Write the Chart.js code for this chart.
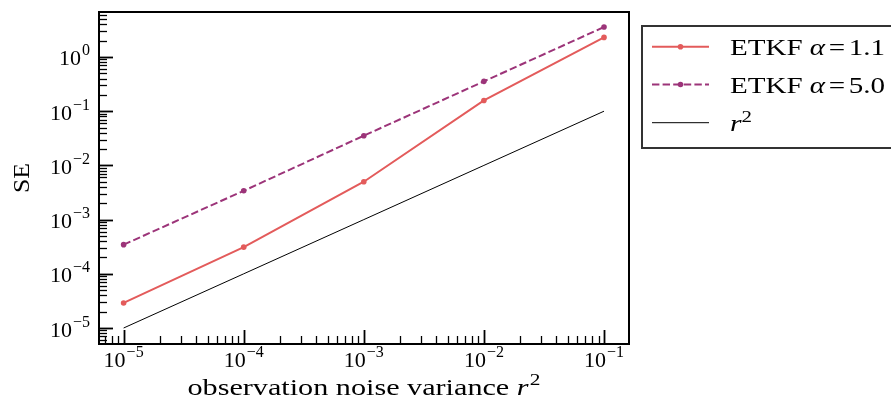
<!DOCTYPE html>
<html><head><meta charset="utf-8">
<script src="https://cdn.jsdelivr.net/npm/chart.js@4"></script>
<style>html,body{margin:0;padding:0;background:#fff;overflow:hidden}#wrap{width:891px;height:405px}</style>
</head><body><div id="wrap"><canvas id="c" width="891" height="405"></canvas></div>
<script>
// ---- data ----
const noiseVariance = [1e-5, 1e-4, 1e-3, 1e-2, 1e-1];
const etkfAlpha11 = [2.9e-5, 3.1e-4, 5.0e-3, 0.158, 2.30];
const etkfAlpha50 = [3.45e-4, 3.4e-3, 0.0353, 0.355, 3.57];
const rSquared = [1e-5, 1e-4, 1e-3, 1e-2, 1e-1];
const seriesNames = ["ETKF α=1.1", "ETKF α=5.0", "r²"];
const xTickValues = [1e-5, 1e-4, 1e-3, 1e-2, 1e-1];
const xTickExponents = ["−5", "−4", "−3", "−2", "−1"];
const yTickValues = [1e-5, 1e-4, 1e-3, 1e-2, 1e-1, 1e0];
const yTickExponents = ["−5", "−4", "−3", "−2", "−1", "0"];
const xAxisTitle = "observation noise variance ";
const yAxisTitle = "SE";

const RED = "#e35b5b", PUR = "#9c3479";
const FAM = '"Liberation Serif","DejaVu Serif",serif';

const pts = arr => noiseVariance.map((x, i) => ({x, y: arr[i]}));

function drawRuns(ctx, runs, x, y, align, target) {
  let w = 0;
  runs.forEach(r => { ctx.font = r.font; r.w = ctx.measureText(r.t).width; w += r.w + (r.gap || 0); });
  const sx = target ? target / w : 1;
  const tw = w * sx;
  let x0 = align === 'center' ? x - tw / 2 : align === 'right' ? x - tw : x;
  ctx.save();
  ctx.translate(x0, y);
  ctx.scale(sx, 1);
  ctx.textBaseline = 'alphabetic';
  ctx.textAlign = 'left';
  let cx = 0;
  runs.forEach(r => { cx += (r.pre || 0); ctx.font = r.font; ctx.fillText(r.t, cx, -(r.dy || 0)); cx += r.w + (r.gap || 0) - (r.pre || 0); });
  ctx.restore();
}

function legendRuns(name, size) {
  const up = size + 'px ' + FAM, it = 'italic ' + size + 'px ' + FAM;
  if (name === "r²") return [{t: "r", font: it}, {t: "2", font: Math.round(size * 0.7) + 'px ' + FAM, dy: 9}];
  const i = name.indexOf("α");
  return [{t: name.slice(0, i), font: up}, {t: "α", font: it, gap: 3}, {t: "=", font: up, gap: 3}, {t: name.slice(i + 2), font: up}];
}

const decor = {
  id: 'decor',
  afterDatasetsDraw(chart) {
    const ctx = chart.ctx, a = chart.chartArea, xs = chart.scales.x, ys = chart.scales.y;
    ctx.save();
    ctx.fillStyle = '#000'; ctx.strokeStyle = '#000';
    // frame
    ctx.lineWidth = 2;
    ctx.strokeRect(a.left, a.top, a.right - a.left, a.bottom - a.top);
    // ticks (major + minor) computed via the library's scales
    for (let e = -7; e <= 1; e++) {
      for (let m = 1; m <= 9; m++) {
        const v = m * Math.pow(10, e);
        const major = m === 1;
        if (v >= xs.min && v <= xs.max) {
          const px = Math.round(xs.getPixelForValue(v)) + 0.5;
          ctx.lineWidth = major ? 1.8 : 1.3;
          ctx.beginPath(); ctx.moveTo(px, a.bottom); ctx.lineTo(px, a.bottom - (major ? 14 : 8)); ctx.stroke();
        }
        if (v >= ys.min && v <= ys.max) {
          const py = Math.round(ys.getPixelForValue(v)) + 0.5;
          ctx.lineWidth = major ? 1.8 : 1.3;
          ctx.beginPath(); ctx.moveTo(a.left, py); ctx.lineTo(a.left + (major ? 14 : 8), py); ctx.stroke();
        }
      }
    }
    // tick labels
    const main = '22px ' + FAM, sup = '16px ' + FAM;
    xTickValues.forEach((v, i) => {
      const px = xs.getPixelForValue(v);
      drawRuns(ctx, [{t: "10", font: main, gap: 1}, {t: xTickExponents[i], font: sup, dy: 10}], px, 367, 'center');
    });
    yTickValues.forEach((v, i) => {
      const py = ys.getPixelForValue(v);
      drawRuns(ctx, [{t: "10", font: main, gap: 1}, {t: yTickExponents[i], font: sup, dy: 10}], 90, py + 8.5, 'right');
    });
    // axis titles
    drawRuns(ctx, [{t: xAxisTitle, font: '24px ' + FAM}, {t: "r", font: 'italic 24px ' + FAM, gap: 1}, {t: "2", font: '17px ' + FAM, dy: 10}],
      (a.left + a.right) / 2, 395, 'center', 353);
    ctx.save();
    ctx.translate(28.5, (a.top + a.bottom) / 2);
    ctx.rotate(-Math.PI / 2);
    drawRuns(ctx, [{t: yAxisTitle, font: '24px ' + FAM}], 0, 0, 'center', 30);
    ctx.restore();
    // legend
    ctx.fillStyle = '#fff';
    ctx.fillRect(642, 26, 260, 122);
    ctx.strokeStyle = '#333'; ctx.lineWidth = 2;
    ctx.strokeRect(642, 26, 260, 122);
    const rows = [46.7, 84.5, 122.7];
    chart.data.datasets.forEach((ds, i) => {
      const y = rows[i];
      ctx.strokeStyle = ds.borderColor; ctx.lineWidth = ds.borderWidth;
      ctx.setLineDash(ds.borderDash || []);
      ctx.beginPath(); ctx.moveTo(652, y); ctx.lineTo(709, y); ctx.stroke();
      ctx.setLineDash([]);
      if (ds.pointRadius > 0) { ctx.fillStyle = ds.borderColor; ctx.beginPath(); ctx.arc(680.5, y, ds.pointRadius, 0, Math.PI * 2); ctx.fill(); }
      ctx.fillStyle = '#000';
      const name = seriesNames[i];
      drawRuns(ctx, legendRuns(name, 24), 730, y + 8.5, 'left', name === "r²" ? 22 : 155);
    });
    ctx.restore();
  }
};

new Chart(document.getElementById('c'), {
  type: 'line',
  data: {datasets: [
    {label: seriesNames[0], data: pts(etkfAlpha11), borderColor: RED, backgroundColor: RED, borderWidth: 2, pointRadius: 2.8, pointBorderWidth: 0, tension: 0},
    {label: seriesNames[1], data: pts(etkfAlpha50), borderColor: PUR, backgroundColor: PUR, borderWidth: 2, borderDash: [7.4, 3.2], pointRadius: 2.8, pointBorderWidth: 0, tension: 0},
    {label: seriesNames[2], data: pts(rSquared), borderColor: '#000', backgroundColor: '#000', borderWidth: 1, pointRadius: 0, tension: 0}
  ]},
  options: {
    responsive: false, animation: false, events: [],
    layout: {padding: {left: 99, right: 262, top: 12, bottom: 61}},
    plugins: {legend: {display: false}, tooltip: {enabled: false}},
    scales: {
      x: {type: 'logarithmic', display: false, min: Math.pow(10, -5.205), max: Math.pow(10, -0.792)},
      y: {type: 'logarithmic', display: false, min: Math.pow(10, -5.295), max: Math.pow(10, 0.83)}
    }
  },
  plugins: [decor]
});
</script></body></html>
